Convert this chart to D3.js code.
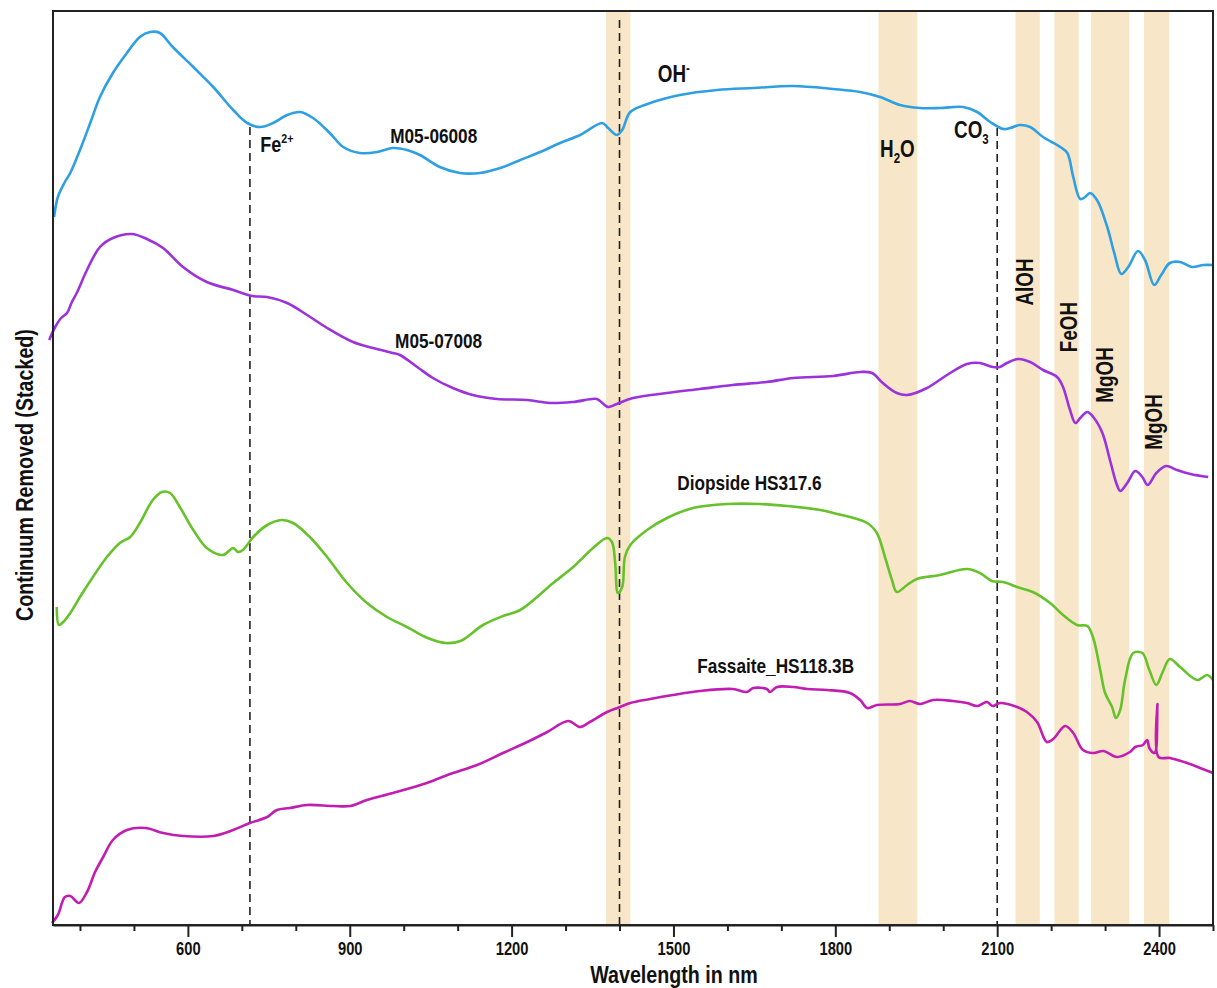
<!DOCTYPE html>
<html>
<head>
<meta charset="utf-8">
<script src="https://cdn.jsdelivr.net/npm/d3@7"></script>
<style>
  body { margin: 0; background: #fff; }
  text { font-family: "Liberation Sans", Arial, sans-serif; font-weight: bold; fill: #111; }
  .axis text { font-size: 18px; }
  .axis path, .axis line { stroke: #222; stroke-width: 2; }
  .line { fill: none; stroke-width: 2.6; stroke-linejoin: round; }
  .band { fill: #f8e6c9; }
  .marker { stroke: #222; stroke-width: 1.6; stroke-dasharray: 8,5; }
</style>
</head>
<body>
<div id="spectraGraph"></div>
<script>
// set the dimensions and margins of the graph
let margin = {top: 11, right: 4, bottom: 63, left: 53},
    width = 1217 - margin.left - margin.right,
    height = 988 - margin.top - margin.bottom;

// narrow bold look of the original lettering
let NARROW = "scale(0.82,1)";

// spectra: [wavelength nm, stacked continuum removed value]
const M05_06008 = [[352,708],[359,728],[372,743],[382,752],[400,775],[419,802],[437,828],[461,852],[487,872],[511,888],
    [530,893],[548,892],[572,878],[610,858],[647,838],[684,815],[710,802],[734,798],[758,802],[784,810],[808,813],[832,807],
    [863,792],[888,778],[919,772],[951,773],[980,777],[1006,775],[1030,770],[1067,758],[1104,752],[1141,752],[1179,757],
    [1216,765],[1253,773],[1290,782],[1327,790],[1368,802],[1379,797],[1395,790],[1405,795],[1420,813],[1457,822],[1512,830],
    [1581,835],[1648,837],[1722,839],[1796,836],[1846,833],[1883,828],[1920,820],[1957,817],[1994,817],[2037,818],[2063,813],
    [2087,803],[2111,796],[2124,797],[2142,800],[2161,798],[2185,788],[2217,778],[2230,772],[2241,748],[2254,726],[2263,728],
    [2272,732],[2285,725],[2304,698],[2317,672],[2330,651],[2343,658],[2361,674],[2374,665],[2391,640],[2404,650],[2420,662],
    [2439,663],[2461,658],[2482,660],[2500,660]];

const M05_07008 = [[343,585],[354,598],[365,607],[376,612],[385,623],[394,632],[413,655],[437,678],[461,687],[496,691],
    [524,686],[554,677],[591,658],[635,643],[684,635],[719,629],[747,628],[784,622],[821,610],[858,597],[906,583],[943,577],
    [980,572],[993,570],[1025,558],[1054,547],[1091,537],[1128,530],[1173,526],[1229,525],[1271,522],[1314,523],[1358,526],
    [1368,522],[1379,518],[1395,521],[1425,527],[1488,532],[1549,536],[1610,540],[1673,543],[1722,547],[1796,549],[1846,553],
    [1868,552],[1888,542],[1914,532],[1933,530],[1970,537],[2007,550],[2044,561],[2068,562],[2092,558],[2105,558],[2118,562],
    [2139,566],[2161,563],[2185,555],[2211,548],[2222,538],[2235,515],[2245,502],[2254,507],[2267,513],[2278,508],[2295,492],
    [2309,465],[2322,440],[2328,434],[2341,442],[2356,454],[2369,448],[2379,440],[2395,452],[2413,459],[2433,455],[2458,451],
    [2491,448]];

const diopside = [[357,318],[361,300],[369,303],[382,312],[400,328],[424,348],[450,368],[474,382],[493,388],[511,402],
    [535,425],[552,433],[567,432],[585,418],[610,395],[635,377],[665,370],[684,377],[693,373],[702,375],[721,388],[747,400],
    [774,405],[795,402],[826,388],[858,368],[895,342],[932,322],[969,308],[1006,298],[1040,288],[1077,282],[1105,284],
    [1147,300],[1184,309],[1216,315],[1277,342],[1314,358],[1351,377],[1377,387],[1386,383],[1392,362],[1397,332],[1405,338],
    [1410,368],[1420,380],[1451,395],[1488,407],[1536,417],[1599,421],[1660,421],[1711,419],[1772,415],[1796,412],[1859,402],
    [1877,392],[1892,368],[1905,345],[1914,333],[1933,340],[1951,346],[1994,350],[2044,356],[2068,352],[2090,344],[2111,343],
    [2137,338],[2166,333],[2198,322],[2222,310],[2248,300],[2267,299],[2278,287],[2291,255],[2300,232],[2313,218],[2320,207],
    [2328,215],[2337,245],[2352,272],[2369,272],[2382,255],[2395,240],[2406,252],[2420,266],[2439,258],[2471,245],[2489,250],
    [2500,245]];

const fassaite = [[348,2],[359,10],[372,28],[382,29],[398,22],[413,33],[428,53],[443,68],[461,85],[487,95],[521,97],
    [554,92],[591,89],[647,89],[684,95],[715,102],[747,108],[765,115],[789,117],[821,120],[869,119],[901,119],[932,125],
    [980,132],[1043,142],[1086,151],[1136,160],[1184,172],[1229,183],[1266,193],[1305,204],[1327,198],[1345,203],[1377,213],
    [1401,218],[1420,222],[1457,226],[1499,230],[1549,234],[1610,236],[1636,233],[1648,237],[1673,236],[1679,233],[1692,238],
    [1722,238],[1748,236],[1785,235],[1827,232],[1846,225],[1859,217],[1877,220],[1920,221],[1938,224],[1957,221],[1981,225],
    [2018,224],[2044,222],[2063,219],[2081,223],[2092,219],[2105,222],[2137,218],[2155,213],[2174,203],[2192,183],[2204,186],
    [2226,199],[2241,192],[2259,175],[2278,172],[2297,174],[2322,168],[2346,173],[2356,178],[2370,180],[2378,185],[2382,177],
    [2391,172],[2394,174],[2397,221],[2399,168],[2420,167],[2452,162],[2476,157],[2500,152]];

const SPECTRA = [M05_06008, M05_07008, diopside, fassaite];
const COLOURS = ["#2ea0e2", "#9b32dc", "#66c22a", "#c11db3"];

// absorption feature bands (nm)
const bandFrom = [1375, 1880, 2134, 2206, 2274, 2372];
const bandTo   = [1420, 1952, 2179, 2251, 2345, 2419];

// dashed marker lines: wavelength and where they start
const markerNm  = [715, 1400, 2100];
const markerTop = [798, 905, 797];

// axis ticks
const majorTicks = [600, 900, 1200, 1500, 1800, 2100, 2400];
const minorTicks = [400, 500, 700, 800, 1000, 1100, 1300, 1400, 1600, 1700, 1900, 2000, 2200, 2300, 2500];

// horizontal labels: segments [text, 0 normal / 1 super / -1 sub]
const labelParts = [
    [["Fe", 0], ["2+", 1]],
    [["OH", 0], ["-", 1]],
    [["H", 0], ["2", -1], ["O", 0]],
    [["CO", 0], ["3", -1]],
    [["M05-06008", 0]],
    [["M05-07008", 0]],
    [["Diopside HS317.6", 0]],
    [["Fassaite_HS118.3B", 0]]
];
const labelNm = [734, 1471, 1883, 2020, 975, 984, 1507, 1544];
const labelVal = [773, 843, 768, 787, 782, 577, 435, 252];
let LABEL_SIZE = [22, 23, 23, 23, 21, 21, 21, 21];

// vertical feature labels
const featText = ["AlOH", "FeOH", "MgOH", "MgOH"];
const featNm = [2166, 2248, 2314, 2406];
const featVal = [643, 598, 550, 503];

// set the ranges
let x = d3.scaleLinear().domain([350, 2500]).range([0, width]);
let y = d3.scaleLinear().domain([0, 914]).range([height, 0]);

let line = d3.line()
    .x( (d) => x(d[0]) )
    .y( (d) => y(d[1]) )
    .curve(d3.curveCatmullRom.alpha(0.5));

let svg = d3.select("#spectraGraph").append("svg")
    .attr("width", width + margin.left + margin.right)
    .attr("height", height + margin.top + margin.bottom)
    .append("g")
    .attr("transform", "translate(" + margin.left + "," + margin.top + ")");

// shaded bands
svg.append("g").selectAll("rect")
    .data(bandFrom)
    .enter().append("rect")
    .attr("class", "band")
    .attr("x", (d) => x(d))
    .attr("y", 0)
    .attr("width", (d, i) => x(bandTo[i]) - x(d))
    .attr("height", height);

// dashed markers
svg.append("g").selectAll("line")
    .data(markerNm)
    .enter().append("line")
    .attr("class", "marker")
    .attr("x1", (d) => x(d))
    .attr("x2", (d) => x(d))
    .attr("y1", (d, i) => y(markerTop[i]))
    .attr("y2", height);

// spectra
SPECTRA.forEach(function (s, i) {
    svg.append("path")
        .datum(s)
        .attr("class", "line")
        .style("stroke", COLOURS[i])
        .attr("d", line);
});

// frame
svg.append("rect")
    .attr("width", width)
    .attr("height", height)
    .style("fill", "none")
    .style("stroke", "#222")
    .style("stroke-width", 2);

// x axis
svg.append("g")
    .attr("class", "x axis")
    .attr("transform", "translate(0," + height + ")")
    .call(d3.axisBottom(x).tickValues(majorTicks).tickSize(12).tickSizeOuter(0).tickPadding(5).tickFormat(d3.format("d")))
    .selectAll(".tick text").attr("transform", NARROW);
svg.append("g")
    .attr("class", "x axis minor")
    .attr("transform", "translate(0," + height + ")")
    .call(d3.axisBottom(x).tickValues(minorTicks).tickSize(6).tickSizeOuter(0).tickFormat(""))
    .select(".domain").remove();

// axis titles
svg.append("text")
    .attr("transform", "translate(621," + (height + 58) + ") " + NARROW)
    .attr("text-anchor", "middle")
    .style("font-size", "24px")
    .text("Wavelength in nm");
svg.append("text")
    .attr("transform", "translate(-20,464) rotate(-90) " + NARROW)
    .attr("text-anchor", "middle")
    .style("font-size", "24px")
    .text("Continuum Removed (Stacked)");

// labels
labelParts.forEach(function (parts, i) {
    let fs = LABEL_SIZE[i];
    let t = svg.append("text")
        .attr("transform", "translate(" + x(labelNm[i]) + "," + y(labelVal[i]) + ") " + NARROW)
        .style("font-size", fs + "px");
    let shift = 0;
    parts.forEach(function (p) {
        let target = p[1] === 1 ? -Math.round(fs * 0.4) : (p[1] === -1 ? Math.round(fs * 0.28) : 0);
        t.append("tspan")
            .attr("dy", target - shift)
            .style("font-size", p[1] === 0 ? fs + "px" : Math.round(fs * 0.6) + "px")
            .text(p[0]);
        shift = target;
    });
});

svg.append("g").selectAll("text")
    .data(featText)
    .enter().append("text")
    .attr("transform", (d, i) => "translate(" + x(featNm[i]) + "," + y(featVal[i]) + ") rotate(-90) " + NARROW)
    .attr("text-anchor", "middle")
    .style("font-size", "23px")
    .text((d) => d);
</script>
</body>
</html>
